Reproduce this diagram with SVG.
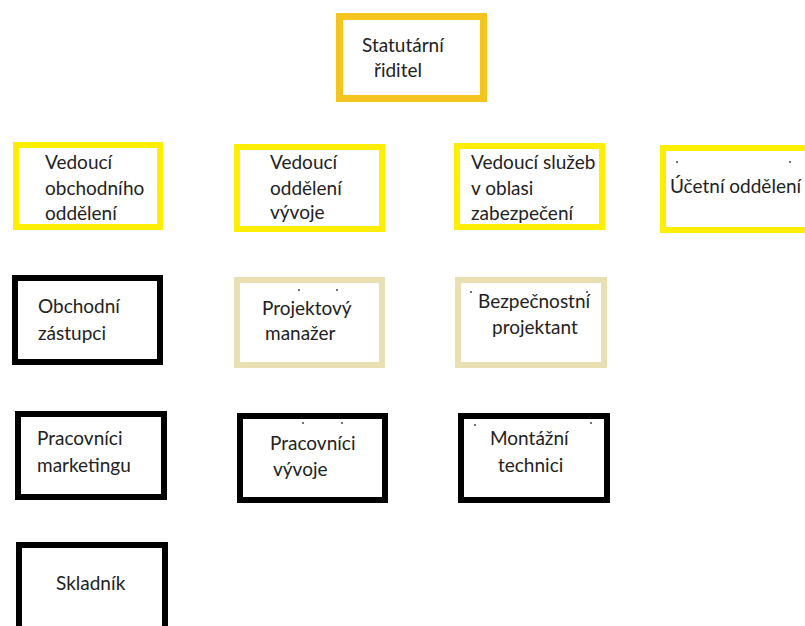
<svg xmlns="http://www.w3.org/2000/svg" width="805" height="626" viewBox="0 0 805 626">
<style>
.box{fill:#fff;stroke-width:6}
.gold{stroke:#F3C51E;stroke-width:7}
.yel{stroke:#FFEE00}
.beige{stroke:#E8DFB3}
.blk{stroke:#000}
text{font-family:Lato,"Open Sans","Liberation Sans",sans-serif;font-size:19px;fill:#222}
.dot{fill:#444}
</style>
<rect width="805" height="626" fill="#fff"/>
<g id="connectors"></g>
<g id="n-statutarni"><rect class="box gold" x="339.5" y="16.5" width="144" height="82"/><text x="362" y="52">Statutární</text><text x="374" y="77">řiditel</text></g>
<g id="n-obchod"><rect class="box yel" x="16" y="145" width="144" height="82"/><text x="45" y="169">Vedoucí</text><text x="45" y="195">obchodního</text><text x="45" y="220">oddělení</text></g>
<g id="n-vyvoj"><rect class="box yel" x="237" y="147" width="145" height="82"/><text x="270" y="169">Vedoucí</text><text x="270" y="195">oddělení</text><text x="270" y="219">vývoje</text></g>
<g id="n-sluzby"><rect class="box yel" x="457" y="146" width="145" height="81"/><text x="471" y="169">Vedoucí služeb</text><text x="471" y="195">v oblasi</text><text x="471" y="220">zabezpečení</text></g>
<g id="n-ucetni"><rect class="box yel" x="663" y="148" width="150" height="82"/><circle class="dot" cx="677" cy="162" r="1"/><circle class="dot" cx="790" cy="162" r="1"/><text x="670" y="193">Účetní oddělení</text></g>
<g id="n-zastupci"><rect class="box blk" x="15" y="278" width="145" height="84"/><text x="38" y="313">Obchodní</text><text x="38" y="340">zástupci</text></g>
<g id="n-projektovy"><rect class="box beige" x="237" y="280" width="145" height="85"/><circle class="dot" cx="299" cy="290" r="1"/><circle class="dot" cx="337" cy="290" r="1"/><text x="262" y="315">Projektový</text><text x="265" y="340">manažer</text></g>
<g id="n-bezpecnostni"><rect class="box beige" x="458" y="280" width="146" height="85"/><circle class="dot" cx="471" cy="292" r="1"/><circle class="dot" cx="587" cy="292" r="1"/><text x="478" y="308">Bezpečnostní</text><text x="492" y="334">projektant</text></g>
<g id="n-marketing"><rect class="box blk" x="18" y="414" width="146" height="83"/><text x="37" y="445">Pracovníci</text><text x="37" y="472">marketingu</text></g>
<g id="n-pracvyvoj"><rect class="box blk" x="240" y="416" width="145" height="84"/><circle class="dot" cx="303" cy="423" r="1"/><circle class="dot" cx="342" cy="423" r="1"/><text x="270" y="450">Pracovníci</text><text x="273" y="476">vývoje</text></g>
<g id="n-montazni"><rect class="box blk" x="461" y="416" width="146" height="84"/><circle class="dot" cx="475" cy="425" r="1"/><circle class="dot" cx="591" cy="423" r="1"/><text x="490" y="445">Montážní</text><text x="498" y="472">technici</text></g>
<g id="n-skladnik"><rect class="box blk" x="19" y="545" width="146" height="90"/><text x="56" y="590">Skladník</text></g>
</svg>
